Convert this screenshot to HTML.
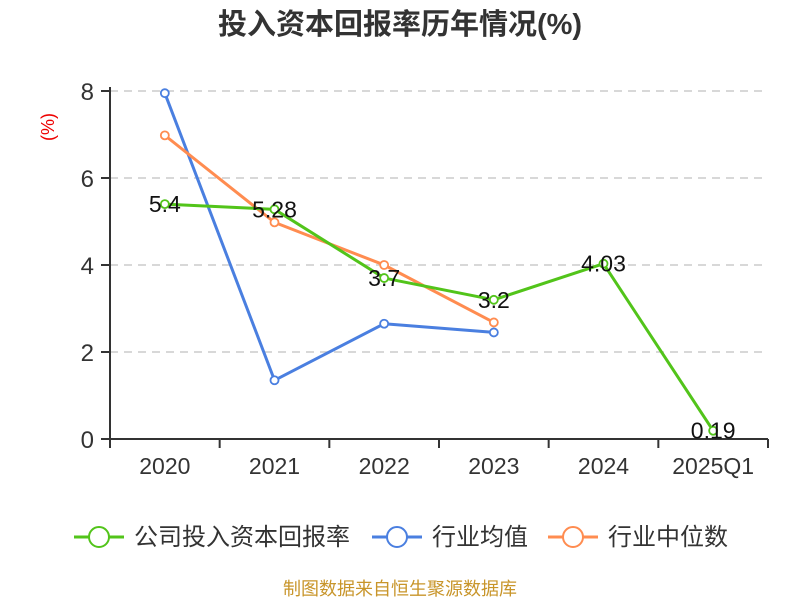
<!DOCTYPE html>
<html><head><meta charset="utf-8"><style>
body{margin:0;background:#fff;}
svg{display:block;font-family:"Liberation Sans","Noto Sans CJK SC",sans-serif;}
</style></head><body>
<svg id="c" width="800" height="600">
<text x="400" y="34" text-anchor="middle" font-size="29" font-weight="bold" fill="#333">投入资本回报率历年情况(%)</text>
<text transform="translate(54,127) rotate(-90)" text-anchor="middle" font-size="18" fill="#e00">(%)</text>
<g id="grid"></g><g id="axes"></g><g id="series"></g>
<g id="legend"></g>
<text x="400" y="595" text-anchor="middle" font-size="18" fill="#c8952a">制图数据来自恒生聚源数据库</text>
</svg>
<script>
const categories=["2020","2021","2022","2023","2024","2025Q1"];
const companyValues=[5.4,5.28,3.7,3.2,4.03,0.19];
const companyLabels=["5.4","5.28","3.7","3.2","4.03","0.19"];
const industryAvg=[7.95,1.35,2.65,2.45];
const industryMedian=[6.98,4.98,4.0,2.68];
const yTicks=[0,2,4,6,8];
const seriesNames=["公司投入资本回报率","行业均值","行业中位数"];
const colors=["#52c41a","#4a7fe0","#ff8c50"];
const NS="http://www.w3.org/2000/svg";
const L=110,R=768,T=91,B=439,yMax=8;
const bw=(R-L)/categories.length;
const x=i=>L+bw*(i+0.5);
const y=v=>B-(v/yMax)*(B-T);
function mk(tag,attrs,parent){const e=document.createElementNS(NS,tag);for(const k in attrs)e.setAttribute(k,attrs[k]);parent.appendChild(e);return e;}
const grid=document.getElementById('grid'),axes=document.getElementById('axes'),ser=document.getElementById('series'),leg=document.getElementById('legend');
yTicks.forEach(t=>{
 if(t>0){const g=mk('line',{x1:L,x2:R,y1:y(t),y2:y(t),stroke:'#ccc','stroke-dasharray':'8,6','stroke-width':1.5},grid);
 }
 const tk=mk('line',{x1:L-9,x2:L,y1:y(t),y2:y(t),stroke:'#333','stroke-width':2},axes);
 
 const tl=mk('text',{x:L-16,y:y(t)+9,'text-anchor':'end','font-size':24,fill:'#333'},axes);tl.textContent=t;
 
});
const ya=mk('line',{x1:L,x2:L,y1:T-4,y2:B,stroke:'#333','stroke-width':2},axes);

const xa=mk('line',{x1:L,x2:R,y1:B,y2:B,stroke:'#333','stroke-width':2},axes);

for(let i=0;i<=categories.length;i++){const tk=mk('line',{x1:L+bw*i,x2:L+bw*i,y1:B,y2:B+9,stroke:'#333','stroke-width':2},axes);
 }
categories.forEach((c,i)=>{const t=mk('text',{x:x(i),y:B+35,'text-anchor':'middle','font-size':23,fill:'#333'},axes);t.textContent=c;
 });
function drawSeries(vals,color,name){
 const g=mk('g',{},ser);
 const p=mk('polyline',{points:vals.map((v,i)=>x(i)+','+y(v)).join(' '),fill:'none',stroke:color,'stroke-width':3,'stroke-linejoin':'round'},g);
 
 vals.forEach((v,i)=>{const c=mk('circle',{cx:x(i),cy:y(v),r:4,fill:'#fff',stroke:color,'stroke-width':1.8},g);
  });
}
drawSeries(industryAvg,colors[1],'industry-average');
drawSeries(industryMedian,colors[2],'industry-median');
drawSeries(companyValues,colors[0],'company-roic');
companyValues.forEach((v,i)=>{const t=mk('text',{x:x(i),y:y(v)+8,'text-anchor':'middle','font-size':23,fill:'#111'},ser);t.textContent=companyLabels[i];
 });
const lx=[74,372,548];
seriesNames.forEach((n,i)=>{const g=mk('g',{},leg);
 mk('line',{x1:lx[i],x2:lx[i]+50,y1:537,y2:537,stroke:colors[i],'stroke-width':3},g);
 mk('circle',{cx:lx[i]+25,cy:537,r:10,fill:'#fff',stroke:colors[i],'stroke-width':2},g);
 const t=mk('text',{x:lx[i]+60,y:545,'font-size':24,fill:'#333'},g);t.textContent=n;});
</script>
</body></html>
